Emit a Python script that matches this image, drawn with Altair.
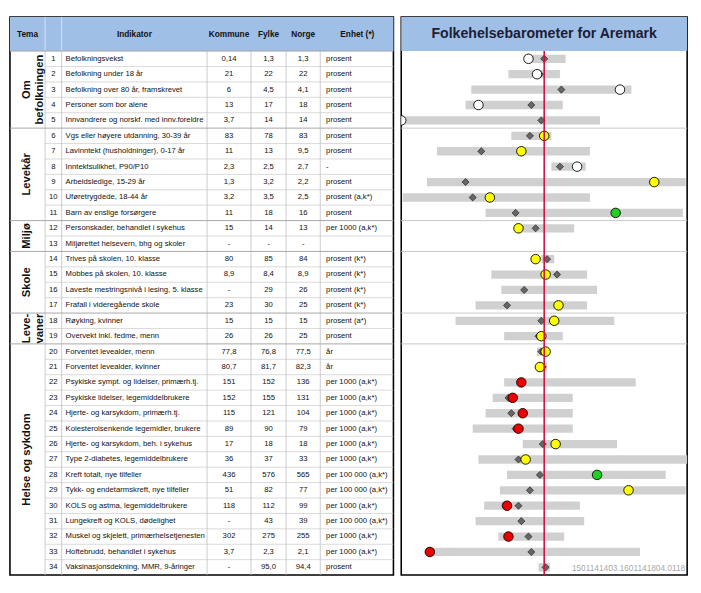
import altair as alt
import pandas as pd

# ---------------- table values ----------------
nr = list(range(1, 35))
indikator = [
    "Befolkningsvekst", "Befolkning under 18 år", "Befolkning over 80 år, framskrevet",
    "Personer som bor alene", "Innvandrere og norskf. med innv.foreldre",
    "Vgs eller høyere utdanning, 30-39 år", "Lavinntekt (husholdninger), 0-17 år",
    "Inntektsulikhet, P90/P10", "Arbeidsledige, 15-29 år", "Uføretrygdede, 18-44 år",
    "Barn av enslige forsørgere", "Personskader, behandlet i sykehus",
    "Miljørettet helsevern, bhg og skoler", "Trives på skolen, 10. klasse",
    "Mobbes på skolen, 10. klasse", "Laveste mestringsnivå i lesing, 5. klasse",
    "Frafall i videregående skole", "Røyking, kvinner", "Overvekt inkl. fedme, menn",
    "Forventet levealder, menn", "Forventet levealder, kvinner",
    "Psykiske sympt. og lidelser, primærh.tj.", "Psykiske lidelser, legemiddelbrukere",
    "Hjerte- og karsykdom, primærh.tj.", "Kolesterolsenkende legemidler, brukere",
    "Hjerte- og karsykdom, beh. i sykehus", "Type 2-diabetes, legemiddelbrukere",
    "Kreft totalt, nye tilfeller", "Tykk- og endetarmskreft, nye tilfeller",
    "KOLS og astma, legemiddelbrukere", "Lungekreft og KOLS, dødelighet",
    "Muskel og skjelett, primærhelsetjenesten", "Hoftebrudd, behandlet i sykehus",
    "Vaksinasjonsdekning, MMR, 9-åringer",
]
kommune = ["0,14", "21", "6", "13", "3,7", "83", "11", "2,3", "1,3", "3,2", "11", "15", "-",
           "80", "8,9", "-", "23", "15", "26", "77,8", "80,7", "151", "152", "115", "89",
           "17", "36", "436", "51", "118", "-", "302", "3,7", "-"]
fylke = ["1,3", "22", "4,5", "17", "14", "78", "13", "2,5", "3,2", "3,5", "18", "14", "-",
         "85", "8,4", "29", "30", "15", "26", "76,8", "81,7", "152", "155", "121", "90",
         "18", "37", "576", "82", "112", "43", "275", "2,3", "95,0"]
norge = ["1,3", "22", "4,1", "18", "14", "83", "9,5", "2,7", "2,2", "2,5", "16", "13", "-",
         "84", "8,9", "26", "25", "15", "25", "77,5", "82,3", "136", "131", "104", "79",
         "18", "33", "565", "77", "99", "39", "255", "2,1", "94,4"]
enhet = ["prosent", "prosent", "prosent", "prosent", "prosent", "prosent", "prosent", "-",
         "prosent", "prosent (a,k*)", "prosent", "per 1000 (a,k*)", "", "prosent (k*)",
         "prosent (k*)", "prosent (k*)", "prosent (k*)", "prosent (a*)", "prosent", "år", "år",
         "per 1000 (a,k*)", "per 1000 (a,k*)", "per 1000 (a,k*)", "per 1000 (a,k*)",
         "per 1000 (a,k*)", "per 1000 (a,k*)", "per 100 000 (a,k*)", "per 100 000 (a,k*)",
         "per 1000 (a,k*)", "per 100 000 (a,k*)", "per 1000 (a,k*)", "per 1000 (a,k*)",
         "prosent"]

tema = ["Om\nbefolkningen", "Levekår", "Miljø", "Skole", "Leve-\nvaner", "Helse og sykdom"]
tema_fra = [1, 6, 12, 14, 18, 20]
tema_til = [5, 11, 13, 17, 19, 34]

header_labels = ["Tema", "Indikator", "Kommune", "Fylke", "Norge", "Enhet (*)"]
title = "Folkehelsebarometer for Aremark"
footer = "1501141403.1601141804.0118"

# ---------------- barometer (standardised scale, Norway = 0) ----------------
bar_lo = [-0.14, -0.25, -0.51, -0.55, -0.99, -0.23, -0.75, 0.05, -0.82, -0.99, -0.41, -0.18, None,
          -0.02, -0.37, -0.30, -0.48, -0.62, -0.28, -0.05, -0.04, -0.28, -0.36, -0.41, -0.50,
          -0.15, -0.46, -0.26, -0.31, -0.42, -0.48, -0.32, -0.79, -0.04]
bar_hi = [0.15, 0.11, 0.61, 0.13, 0.39, 0.05, 0.32, 0.29, 0.99, 0.32, 0.97, 0.21, None,
          0.07, 0.30, 0.37, 0.30, 0.49, 0.13, 0.02, 0.02, 0.64, 0.20, 0.20, 0.20,
          0.51, 1.00, 0.85, 0.99, 0.25, 0.28, 0.14, 0.67, 0.04]
fylke_pos = [0.00, -0.03, 0.12, -0.09, -0.02, -0.10, -0.44, 0.11, -0.55, -0.50, -0.20, -0.06, None,
             0.02, 0.09, -0.14, -0.26, -0.02, -0.04, -0.02, -0.01, -0.16, -0.25, -0.23, -0.20,
             -0.01, -0.18, -0.03, -0.10, -0.18, -0.16, -0.11, -0.09, 0.01]
kommune_pos = [-0.11, -0.05, 0.53, -0.46, -1.00, 0.00, -0.16, 0.23, 0.77, -0.38, 0.50, -0.18, None,
               -0.06, 0.01, None, 0.10, 0.07, -0.02, 0.01, -0.03, -0.16, -0.22, -0.15, -0.18,
               0.08, -0.13, 0.37, 0.59, -0.26, None, -0.25, -0.80, None]
kommune_farge = ["hvit", "hvit", "hvit", "hvit", "hvit", "gul", "gul", "hvit", "gul", "gul",
                 "grønn", "gul", None, "gul", "gul", None, "gul", "gul", "gul", "gul", "gul",
                 "rød", "rød", "rød", "rød", "gul", "gul", "grønn", "gul", "rød", None,
                 "rød", "rød", None]

# ---------------- layout ----------------
W_TAB, W_BAR, H = 393, 293, 572
HEAD_PX = 35
ROW_PX = (H - HEAD_PX) / 34
Y_DOM = [0.5 - HEAD_PX / ROW_PX, 34.5]
col_edges = [36, 53, 202, 247, 283, 318]
header_x = [18, 127.5, 224.5, 265, 300.5, 356]
group_breaks = [5.5, 11.5, 13.5, 17.5, 19.5]
BLUE = "#9FBFE6"
FONT = "Liberation Sans"

yscale = alt.Scale(domain=Y_DOM, reverse=True, nice=False, zero=False)
xt = alt.Scale(domain=[0, W_TAB], nice=False, zero=False)
xb = alt.Scale(domain=[-1, 1], nice=False, zero=False)

one = pd.DataFrame({"a": [0]})

# ---------------- table panel ----------------
tab = pd.DataFrame({"nr": nr, "ind": indikator, "kom": kommune, "fyl": fylke,
                    "nor": norge, "enh": enhet})
Yr = alt.Y("nr:Q", scale=yscale, axis=None)

head_bg = alt.Chart(one).mark_rect(color=BLUE).encode(
    x=alt.value(0), x2=alt.value(W_TAB), y=alt.value(0), y2=alt.value(HEAD_PX))

head_vlines = alt.Chart(pd.DataFrame({"x": col_edges[:2]})).mark_rule(
    color="#D6E3F3", strokeWidth=1).encode(
    x=alt.X("x:Q", scale=xt, axis=None), y=alt.value(0), y2=alt.value(HEAD_PX))

inner = [i + 0.5 for i in range(1, 34) if (i + 0.5) not in group_breaks]
row_lines = alt.Chart(pd.DataFrame({"y": inner})).mark_rule(
    color="#C8C8C8", strokeWidth=0.7).encode(
    y=alt.Y("y:Q", scale=yscale, axis=None), x=alt.value(col_edges[0]), x2=alt.value(W_TAB))

grp_lines = alt.Chart(pd.DataFrame({"y": group_breaks + [0.5]})).mark_rule(
    color="#A6A6A6", strokeWidth=1).encode(
    y=alt.Y("y:Q", scale=yscale, axis=None), x=alt.value(0), x2=alt.value(W_TAB))

vlines = alt.Chart(pd.DataFrame({"x": col_edges, "y0": [0.5] * 6, "y1": [34.5] * 6})).mark_rule(
    color="#BEBEBE", strokeWidth=0.8).encode(
    x=alt.X("x:Q", scale=xt, axis=None),
    y=alt.Y("y0:Q", scale=yscale, axis=None), y2="y1:Q")

head_txt = alt.Chart(pd.DataFrame({"lab": header_labels, "x": header_x})).mark_text(
    font=FONT, fontSize=8.5, fontWeight="bold", color="#111111", align="center",
    baseline="middle").encode(
    x=alt.X("x:Q", scale=xt, axis=None), y=alt.value(HEAD_PX / 2), text="lab:N")

tbase = alt.Chart(tab).encode(y=Yr)
tstyle = dict(font=FONT, fontSize=7.9, color="#111111", baseline="middle")
t_nr = tbase.mark_text(align="center", **tstyle).encode(x=alt.value(44.5), text="nr:N")
t_ind = tbase.mark_text(align="left", **tstyle).encode(x=alt.value(57), text="ind:N")
t_kom = tbase.mark_text(align="center", **tstyle).encode(x=alt.value(224.5), text="kom:N")
t_fyl = tbase.mark_text(align="center", **tstyle).encode(x=alt.value(265), text="fyl:N")
t_nor = tbase.mark_text(align="center", **tstyle).encode(x=alt.value(300.5), text="nor:N")
t_enh = tbase.mark_text(align="left", **tstyle).encode(x=alt.value(324), text="enh:N")

tema_df = pd.DataFrame({"lab": tema,
                        "ym": [(a + b) / 2 for a, b in zip(tema_fra, tema_til)]})
t_tema = alt.Chart(tema_df).mark_text(
    font=FONT, fontSize=11.5, fontWeight="bold", color="#111111", angle=270,
    align="center", baseline="middle", lineBreak="\n", lineHeight=13).encode(
    x=alt.value(18), y=alt.Y("ym:Q", scale=yscale, axis=None), text="lab:N")

table = alt.layer(head_bg, head_vlines, row_lines, vlines, grp_lines, head_txt,
                  t_nr, t_ind, t_kom, t_fyl, t_nor, t_enh, t_tema).properties(
    width=W_TAB, height=H)

# ---------------- barometer panel ----------------
bdf = pd.DataFrame({"nr": nr, "lo": bar_lo, "hi": bar_hi, "fy": fylke_pos,
                    "ko": kommune_pos, "farge": kommune_farge})

b_head = alt.Chart(one).mark_rect(color=BLUE).encode(
    x=alt.value(0), x2=alt.value(W_BAR), y=alt.value(0), y2=alt.value(HEAD_PX))
b_title = alt.Chart(one).mark_text(
    font=FONT, fontSize=14.5, fontWeight="bold", color="#1D1D35",
    align="center", baseline="middle").encode(
    x=alt.value(W_BAR / 2), y=alt.value(HEAD_PX / 2), text=alt.value(title))

b_grp = alt.Chart(pd.DataFrame({"y": group_breaks})).mark_rule(
    color="#C8C8C8", strokeWidth=1).encode(
    y=alt.Y("y:Q", scale=yscale, axis=None), x=alt.value(0), x2=alt.value(W_BAR))

b_bars = alt.Chart(bdf.dropna(subset=["lo"])).mark_rule(
    color="#D0D0D0", strokeWidth=8.5, strokeCap="butt").encode(
    x=alt.X("lo:Q", scale=xb, axis=None), x2="hi:Q",
    y=alt.Y("nr:Q", scale=yscale, axis=None))

b_fy = alt.Chart(bdf.dropna(subset=["fy"])).mark_point(
    shape="diamond", filled=True, size=52, color="#666666", stroke="#2E2E2E",
    strokeWidth=0.8, opacity=1).encode(
    x=alt.X("fy:Q", scale=xb, axis=None), y=alt.Y("nr:Q", scale=yscale, axis=None))

b_ko = alt.Chart(bdf.dropna(subset=["ko"])).mark_point(
    shape="circle", filled=True, size=95, stroke="#000000", strokeWidth=0.9,
    opacity=1, clip=True).encode(
    x=alt.X("ko:Q", scale=xb, axis=None), y=alt.Y("nr:Q", scale=yscale, axis=None),
    fill=alt.Fill("farge:N", legend=None, scale=alt.Scale(
        domain=["hvit", "gul", "grønn", "rød"],
        range=["#FFFFFF", "#FFFF00", "#22D022", "#EE0000"])))

b_norge = alt.Chart(pd.DataFrame({"x": [0], "y0": [0.5], "y1": [34.5]})).mark_rule(
    color="#D0103E", strokeWidth=1.6).encode(
    x=alt.X("x:Q", scale=xb, axis=None),
    y=alt.Y("y0:Q", scale=yscale, axis=None), y2="y1:Q")

b_foot = alt.Chart(one).mark_text(
    font=FONT, fontSize=8.5, color="#A8A8A8", align="right", baseline="bottom").encode(
    x=alt.value(W_BAR - 2), y=alt.value(H - 2), text=alt.value(footer))

barom = alt.layer(b_head, b_title, b_grp, b_bars, b_fy, b_ko, b_norge, b_foot).properties(
    width=W_BAR, height=H)

chart = (
    alt.hconcat(table, barom, spacing=2)
    .properties(padding=0, background="white")
    .configure(font=FONT)
    .configure_view(stroke="#000000", strokeWidth=1.6)
)

chart.save("out.html", embed_options={"renderer": "svg", "actions": False})
